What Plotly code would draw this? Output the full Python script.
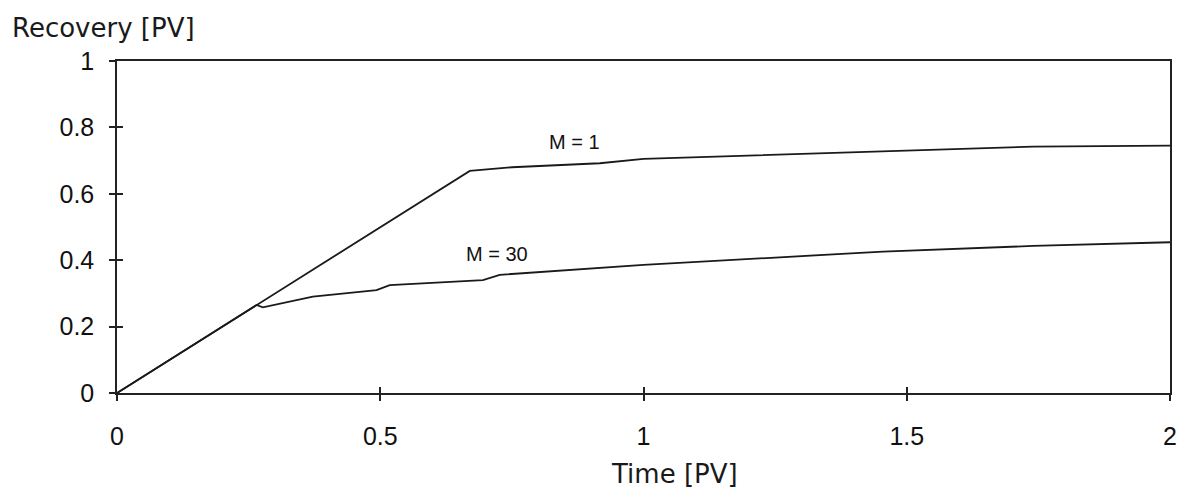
import plotly.graph_objects as go

# M = 1 curve
t_m1 = [0.0, 0.27, 0.67, 0.75, 0.917, 1.0, 1.297, 1.5, 1.74, 2.0]
r_m1 = [0.0, 0.27, 0.669, 0.68, 0.692, 0.705, 0.719, 0.73, 0.742, 0.745]

# M = 30 curve
t_m30 = [0.0, 0.265, 0.277, 0.372, 0.493, 0.518, 0.695, 0.727, 1.0, 1.297, 1.455, 1.74, 2.0]
r_m30 = [0.0, 0.265, 0.258, 0.29, 0.31, 0.325, 0.34, 0.356, 0.386, 0.413, 0.426, 0.443, 0.454]

labels = ["M = 1", "M = 30"]
label_x = [0.869, 0.721]
label_y = [0.756, 0.42]

x_ticks = [0, 0.5, 1, 1.5, 2]
x_ticktext = ["0", "0.5", "1", "1.5", "2"]
y_ticks = [0, 0.2, 0.4, 0.6, 0.8, 1]
y_ticktext = ["0", "0.2", "0.4", "0.6", "0.8", "1"]

line_col = "#1a1a1a"
title_font = dict(family="DejaVu Sans", size=26, color="#1a1a1a")
tick_font = dict(family="Liberation Sans, Arial", size=25, color="#111")

fig = go.Figure()
fig.add_trace(go.Scatter(x=t_m1, y=r_m1, mode="lines", line=dict(color=line_col, width=1.8), showlegend=False))
fig.add_trace(go.Scatter(x=t_m30, y=r_m30, mode="lines", line=dict(color=line_col, width=1.8), showlegend=False))

for txt, lx, ly in zip(labels, label_x, label_y):
    fig.add_annotation(x=lx, y=ly, text=txt, showarrow=False,
                       font=dict(family="Liberation Sans, Arial", size=20, color="#111"))

fig.add_annotation(xref="paper", yref="paper", x=-107/1053, y=1 + 33/332, xanchor="left", yanchor="middle",
                   text="Recovery [PV]", showarrow=False, font=title_font)
fig.add_annotation(xref="paper", yref="paper", x=(674 - 117) / 1053, y=-(474 - 393) / 332,
                   xanchor="center", yanchor="middle",
                   text="Time [PV]", showarrow=False, font=title_font)

axis_common = dict(showline=True, linecolor="#222", linewidth=1.5, mirror=True,
                   showgrid=False, zeroline=False, ticks="outside", ticklen=6,
                   tickcolor="#222", tickwidth=1.5, tickfont=tick_font)

fig.update_layout(
    width=1178, height=486,
    margin=dict(l=109, r=16, t=53, b=101, autoexpand=False),
    plot_bgcolor="white", paper_bgcolor="white",
    xaxis=dict(range=[0, 2], tickvals=x_ticks, ticktext=x_ticktext, ticklabelstandoff=14,
               **axis_common),
    yaxis=dict(range=[0, 1], tickvals=y_ticks, ticktext=y_ticktext, ticklabelstandoff=10,
               **axis_common),
    xaxis2=dict(range=[0, 2], overlaying="x", tickvals=x_ticks, showticklabels=False,
                ticks="inside", ticklen=6, tickcolor="#222", tickwidth=1.5,
                showline=False, showgrid=False, zeroline=False, side="bottom"),
    yaxis2=dict(range=[0, 1], overlaying="y", tickvals=y_ticks, showticklabels=False,
                ticks="inside", ticklen=6, tickcolor="#222", tickwidth=1.5,
                showline=False, showgrid=False, zeroline=False, side="left"),
)
fig.add_trace(go.Scatter(x=[None], y=[None], xaxis="x2", yaxis="y2", showlegend=False, hoverinfo="skip"))

fig.write_html("out.html")
